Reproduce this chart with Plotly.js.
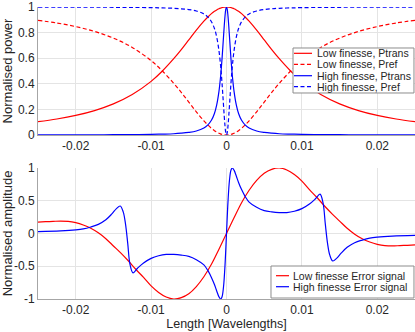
<!DOCTYPE html>
<html>
<head>
<meta charset="utf-8">
<script src="https://cdn.plot.ly/plotly-3.0.1.min.js"></script>
<style>
  html, body { margin: 0; padding: 0; background: #fff; }
  #chart { width: 415px; height: 332px; }
</style>
</head>
<body>
<div id="chart"></div>
<script>
// cavity length offset, in wavelengths (top plot)
var xTop = [-0.025,-0.0225,-0.02,-0.0175,-0.015,-0.0125,-0.01,-0.0085,-0.007,-0.006,-0.005,-0.004,-0.003,-0.0025,-0.002,-0.0016,-0.0013,-0.001,-0.0008,-0.0007,-0.0006,-0.0005,-0.0004,-0.0003,-0.0002,-0.0001,0,0.0001,0.0002,0.0003,0.0004,0.0005,0.0006,0.0007,0.0008,0.001,0.0013,0.0016,0.002,0.0025,0.003,0.004,0.005,0.006,0.007,0.0085,0.01,0.0125,0.015,0.0175,0.02,0.0225,0.025]

var lowTrans = [0.104,0.125,0.153,0.191,0.243,0.316,0.419,0.5,0.596,0.667,0.743,0.819,0.889,0.920,0.948,0.966,0.977,0.986,0.991,0.993,0.995,0.997,0.998,0.999,0.999,1.0,1,1.0,0.999,0.999,0.998,0.997,0.995,0.993,0.991,0.986,0.977,0.966,0.948,0.920,0.889,0.819,0.743,0.667,0.596,0.5,0.419,0.316,0.243,0.191,0.153,0.125,0.104]
var lowRefl = [0.896,0.875,0.847,0.809,0.757,0.684,0.581,0.5,0.404,0.333,0.257,0.181,0.111,0.080,0.052,0.034,0.023,0.014,0.009,0.007,0.005,0.003,0.002,0.001,0.001,0.0,0,0.0,0.001,0.001,0.002,0.003,0.005,0.007,0.009,0.014,0.023,0.034,0.052,0.080,0.111,0.181,0.257,0.333,0.404,0.5,0.581,0.684,0.757,0.809,0.847,0.875,0.896]
var highTrans = [0.0008,0.001,0.0013,0.0017,0.0023,0.0033,0.005,0.0071,0.010,0.014,0.020,0.031,0.054,0.077,0.115,0.168,0.235,0.341,0.447,0.514,0.590,0.675,0.764,0.852,0.928,0.981,1,0.981,0.928,0.852,0.764,0.675,0.590,0.514,0.447,0.341,0.235,0.168,0.115,0.077,0.054,0.031,0.020,0.014,0.010,0.0071,0.005,0.0033,0.0023,0.0017,0.0013,0.001,0.0008]
var highRefl = [0.9992,0.999,0.9987,0.9983,0.9977,0.9967,0.995,0.9929,0.990,0.986,0.980,0.969,0.946,0.923,0.885,0.832,0.765,0.659,0.553,0.486,0.410,0.325,0.236,0.148,0.072,0.019,0,0.019,0.072,0.148,0.236,0.325,0.410,0.486,0.553,0.659,0.765,0.832,0.885,0.923,0.946,0.969,0.980,0.986,0.990,0.9929,0.995,0.9967,0.9977,0.9983,0.9987,0.999,0.9992]

// error signals (bottom plot)
var xLowErr = [-0.025,-0.024,-0.023,-0.022,-0.021,-0.02,-0.019,-0.018,-0.017,-0.016,-0.015,-0.014,-0.013,-0.012,-0.011,-0.01,-0.009,-0.008,-0.007,-0.006,-0.005,-0.004,-0.003,-0.002,-0.001,0,0.001,0.002,0.003,0.004,0.005,0.006,0.007,0.008,0.009,0.01,0.011,0.012,0.013,0.014,0.015,0.016,0.017,0.018,0.019,0.02,0.021,0.022,0.023,0.024,0.025]
var lowErr = [0.175,0.18,0.185,0.19,0.185,0.165,0.13,0.08,0.01,-0.08,-0.19,-0.30,-0.42,-0.55,-0.67,-0.80,-0.90,-0.97,-1.0,-0.98,-0.92,-0.81,-0.66,-0.47,-0.24,0,0.24,0.47,0.66,0.81,0.92,0.98,1.0,0.97,0.90,0.80,0.67,0.55,0.42,0.30,0.19,0.08,-0.01,-0.08,-0.13,-0.165,-0.185,-0.19,-0.185,-0.18,-0.175]

var xHighErr = [-0.025,-0.022,-0.02,-0.019,-0.018,-0.017,-0.016,-0.0152,-0.0146,-0.0141,-0.0137,-0.0134,-0.0131,-0.0128,-0.0124,-0.0118,-0.011,-0.01,-0.009,-0.008,-0.007,-0.006,-0.005,-0.004,-0.003,-0.0025,-0.002,-0.0016,-0.0013,-0.001,-0.00077,-0.0006,-0.0004,-0.0002,0,0.0002,0.0004,0.0006,0.00077,0.001,0.0013,0.0016,0.002,0.0025,0.003,0.004,0.005,0.006,0.007,0.008,0.009,0.01,0.011,0.0118,0.0124,0.0128,0.0131,0.0134,0.0137,0.0141,0.0146,0.0152,0.016,0.017,0.018,0.019,0.02,0.022,0.025]
var highErr = [0.03,0.04,0.055,0.07,0.10,0.14,0.21,0.30,0.38,0.42,0.33,0.15,-0.15,-0.47,-0.60,-0.53,-0.45,-0.38,-0.34,-0.32,-0.32,-0.33,-0.35,-0.40,-0.48,-0.56,-0.67,-0.78,-0.877,-0.967,-1.0,-0.97,-0.82,-0.49,0,0.49,0.82,0.97,1.0,0.967,0.877,0.78,0.67,0.56,0.48,0.40,0.35,0.33,0.32,0.32,0.34,0.38,0.45,0.53,0.60,0.47,0.15,-0.15,-0.33,-0.42,-0.38,-0.30,-0.21,-0.14,-0.10,-0.07,-0.055,-0.04,-0.03]

var xTickVals = [-0.02,-0.01,0,0.01,0.02]
var xTickText = ['-0.02','-0.01','0','0.01','0.02']
var yTopTickVals = [0,0.2,0.4,0.6,0.8,1]
var yTopTickText = ['0','0.2','0.4','0.6','0.8','1']
var yBotTickVals = [-1,-0.5,0,0.5,1]
var yBotTickText = ['-1','-0.5','0','0.5','1']

var topNames = ['Low finesse, Ptrans', 'Low finesse, Pref', 'High finesse, Ptrans', 'High finesse, Pref']
var botNames = ['Low finesse Error signal', 'High finesse Error signal']

var red = '#ff0000'
var blue = '#0000ff'
var dashPat = '4px,2.5px'
var lw = 1.2

var data = [
  {x: xTop, y: lowTrans, name: topNames[0], mode: 'lines', line: {color: red, width: lw, shape: 'spline'}, xaxis: 'x', yaxis: 'y'},
  {x: xTop, y: lowRefl, name: topNames[1], mode: 'lines', line: {color: red, width: lw, dash: dashPat, shape: 'spline'}, xaxis: 'x', yaxis: 'y'},
  {x: xTop, y: highTrans, name: topNames[2], mode: 'lines', line: {color: blue, width: lw, shape: 'spline'}, xaxis: 'x', yaxis: 'y'},
  {x: xTop, y: highRefl, name: topNames[3], mode: 'lines', line: {color: blue, width: lw, dash: dashPat, shape: 'spline'}, xaxis: 'x', yaxis: 'y'},
  {x: xLowErr, y: lowErr, name: botNames[0], mode: 'lines', line: {color: red, width: lw, shape: 'spline'}, xaxis: 'x2', yaxis: 'y2'},
  {x: xHighErr, y: highErr, name: botNames[1], mode: 'lines', line: {color: blue, width: lw, shape: 'spline'}, xaxis: 'x2', yaxis: 'y2'}
]

// compact boxed legends (MATLAB style), placed in paper coordinates
var shapes = []
var annotations = []
function addLegend(box, names, colors, dashes, rowsY, lineX, textX) {
  shapes.push({type: 'rect', xref: 'paper', yref: 'paper', x0: box[0], x1: box[1], y0: box[2], y1: box[3],
    fillcolor: '#ffffff', line: {color: '#8c8c8c', width: 1}, layer: 'above'})
  names.forEach(function (nm, i) {
    shapes.push({type: 'line', xref: 'paper', yref: 'paper', x0: lineX[0], x1: lineX[1], y0: rowsY[i], y1: rowsY[i],
      line: {color: colors[i], width: lw, dash: dashes[i]}, layer: 'above'})
    annotations.push({xref: 'paper', yref: 'paper', x: textX, y: rowsY[i], xanchor: 'left', yanchor: 'middle',
      text: nm, showarrow: false, font: {family: 'Liberation Sans, Arial, sans-serif', size: 10.5, color: '#262626'}})
  })
}
addLegend([0.6764, 0.9973, 0.7055, 0.8596], topNames, [red, red, blue, blue], ['solid', dashPat, 'solid', dashPat],
  [0.8414, 0.8038, 0.7647, 0.7271], [0.679, 0.7268], 0.7347)
addLegend([0.618, 0.9973, 0.0034, 0.1130], botNames, [red, blue], ['solid', 'solid'],
  [0.0798, 0.0421], [0.6313, 0.6658], 0.6711)

var fontFam = 'Liberation Sans, Arial, sans-serif'
var axCommon = {
  showgrid: true, gridcolor: '#e4e4e4', gridwidth: 1,
  zeroline: false, showline: true, linecolor: '#a6a6a6', linewidth: 1,
  ticks: '', tickfont: {family: fontFam, size: 12, color: '#262626'},
  tickmode: 'array', ticklabeloverflow: 'allow'
}

var layout = {
  width: 415, height: 332,
  margin: {l: 38, r: 0, t: 7, b: 33},
  paper_bgcolor: '#ffffff', plot_bgcolor: '#ffffff',
  font: {family: fontFam, color: '#262626'},
  showlegend: false,
  shapes: shapes,
  annotations: annotations,
  xaxis: Object.assign({}, axCommon, {range: [-0.025, 0.025], tickvals: xTickVals, ticktext: xTickText, anchor: 'y'}),
  yaxis: Object.assign({}, axCommon, {range: [0, 1], domain: [0.5616, 1], tickvals: yTopTickVals, ticktext: yTopTickText, anchor: 'x',
    title: {text: 'Normalised power', font: {size: 13, color: '#262626'}, standoff: 4}}),
  xaxis2: Object.assign({}, axCommon, {range: [-0.025, 0.025], tickvals: xTickVals, ticktext: xTickText, anchor: 'y2',
    title: {text: 'Length [Wavelengths]', font: {size: 12.5, color: '#262626'}, standoff: 2}}),
  yaxis2: Object.assign({}, axCommon, {range: [-1, 1], domain: [0, 0.4486], tickvals: yBotTickVals, ticktext: yBotTickText, anchor: 'x2',
    title: {text: 'Normalised amplitude', font: {size: 13, color: '#262626'}, standoff: 4}})
}

Plotly.newPlot('chart', data, layout, {displayModeBar: false, staticPlot: true})
</script>
</body>
</html>
